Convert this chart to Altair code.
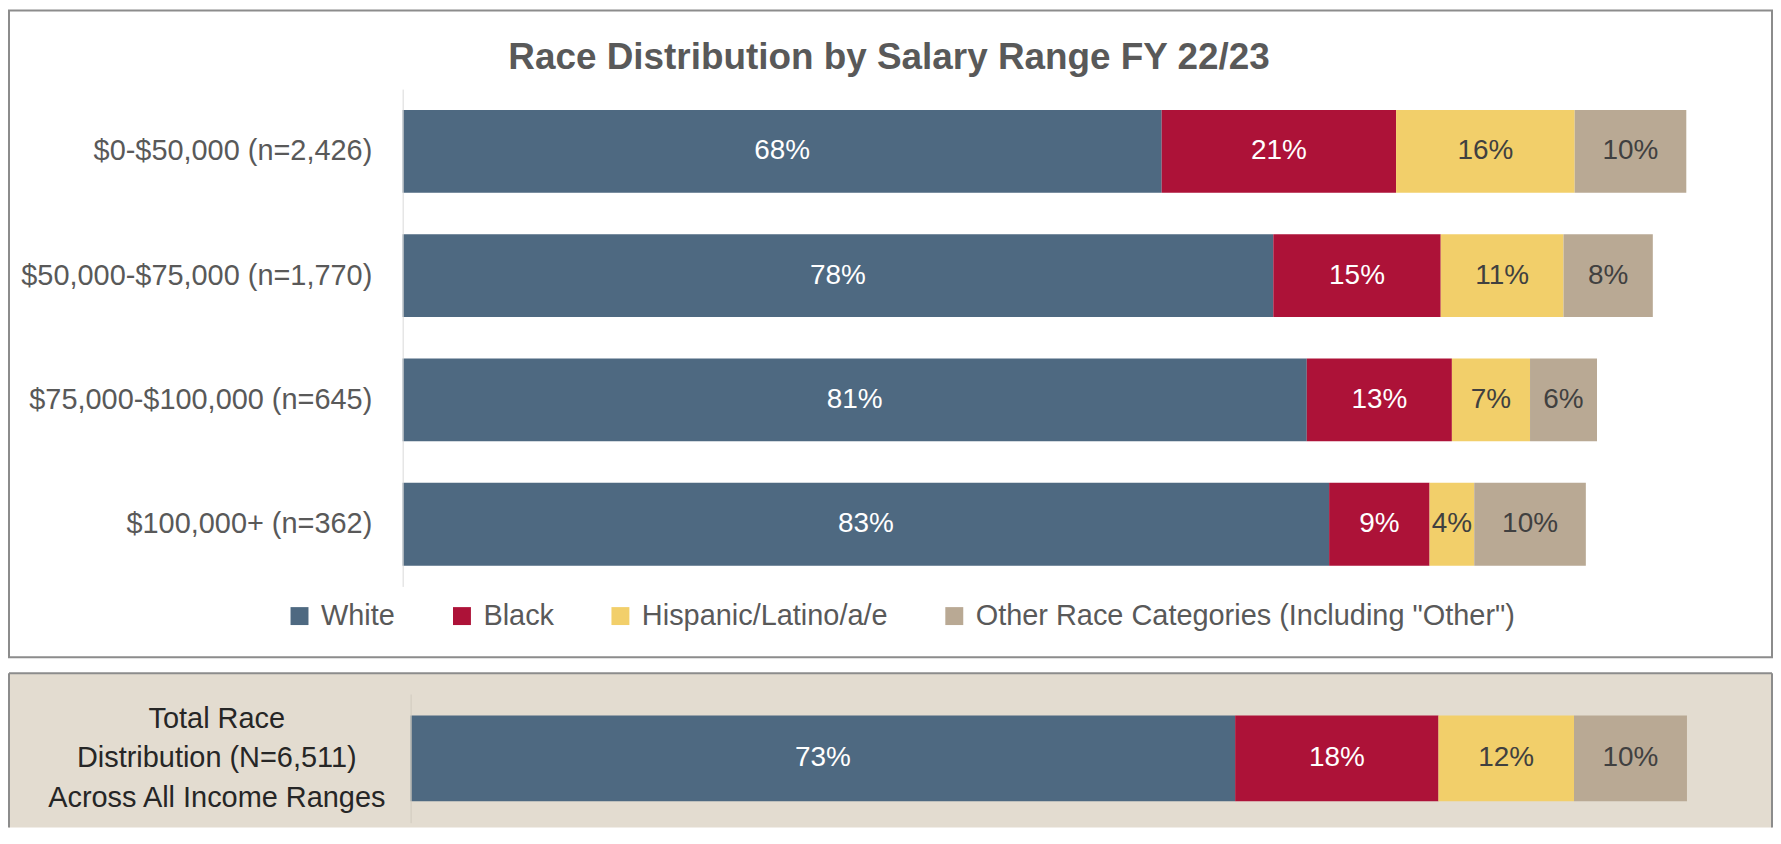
import altair as alt
import pandas as pd

FONT = "Liberation Sans"

chart_title = "Race Distribution by Salary Range FY 22/23"
races = ["White", "Black", "Hispanic/Latino/a/e", 'Other Race Categories (Including "Other")']
colors = ["#4E6981", "#AD1238", "#F2CF6A", "#B9A994"]

salary_ranges = [
    "$0-$50,000 (n=2,426)",
    "$50,000-$75,000 (n=1,770)",
    "$75,000-$100,000 (n=645)",
    "$100,000+ (n=362)",
]
white = [68, 78, 81, 83]
black = [21, 15, 13, 9]
hispanic = [16, 11, 7, 4]
other = [10, 8, 6, 10]

total_label = "Total Race\nDistribution (N=6,511)\nAcross All Income Ranges"
total_values = [73, 18, 12, 10]

series = [white, black, hispanic, other]
top_rows = []
for i, rng in enumerate(salary_ranges):
    for k, race in enumerate(races):
        top_rows.append({"range": rng, "race": race, "order": k, "value": series[k][i]})
top_df = pd.DataFrame(top_rows)

bot_df = pd.DataFrame(
    [{"range": total_label, "race": r, "order": k, "value": v} for k, (r, v) in enumerate(zip(races, total_values))]
)

color_scale = alt.Scale(domain=races, range=colors)


def stacked(df):
    return (
        alt.Chart(df)
        .transform_stack(stack="value", groupby=["range"], as_=["v0", "v1"],
                         sort=[alt.SortField("order", order="ascending")])
        .transform_calculate(mid="(datum.v0 + datum.v1) / 2", label="datum.value + '%'")
    )


one = pd.DataFrame({"a": [0]})
L, R = -395, 1374  # panel edges relative to the plot origin

# ---------------- top panel ----------------
TW, TH = 1344, 499
x_top = alt.Scale(domain=[0, 120], nice=False, zero=True)
y_top = alt.Scale(domain=salary_ranges, paddingInner=0.334, paddingOuter=0.167)

top_panel = alt.Chart(one).mark_rect(fill="white", stroke="#8C8C8C", strokeWidth=2).encode(
    x=alt.value(L), x2=alt.value(R), y=alt.value(-79), y2=alt.value(570)
)

top_title = alt.Chart(pd.DataFrame({"t": [chart_title]})).mark_text(
    font=FONT, fontSize=37, fontWeight="bold", color="#595959", align="center", baseline="middle"
).encode(x=alt.value(488), y=alt.value(-31), text="t:N")

top_bars = stacked(top_df).mark_bar().encode(
    y=alt.Y("range:N", scale=y_top, sort=salary_ranges,
            axis=alt.Axis(title=None, ticks=False, labelPadding=31, labelFontSize=29, labelFont=FONT,
                          labelColor="#595959", labelLimit=600, domainColor="#D9D9D9", domainWidth=1,
                          grid=False, zindex=1)),
    x=alt.X("v0:Q", scale=x_top, axis=None),
    x2="v1:Q",
    color=alt.Color("race:N", scale=color_scale,
                    legend=alt.Legend(title=None, orient="none", legendX=-118, legendY=514,
                                      direction="horizontal", symbolType="square", symbolSize=324,
                                      symbolStrokeWidth=0, symbolOpacity=1, labelFontSize=29,
                                      labelFont=FONT, labelColor="#595959", labelOffset=7,
                                      columnPadding=52, labelLimit=800, zindex=1)),
)

top_labels = stacked(top_df).mark_text(font=FONT, fontSize=28, align="center", baseline="middle").encode(
    y=alt.Y("range:N", scale=y_top, sort=salary_ranges),
    x=alt.X("mid:Q", scale=x_top),
    text="label:N",
    color=alt.condition("datum.order < 2", alt.value("white"), alt.value("#404040")),
)

top = alt.layer(top_panel, top_title, top_bars, top_labels).properties(width=TW, height=TH)

# ---------------- bottom panel ----------------
BW, BH = 1368, 129
SHIFT = 8
x_bot = alt.Scale(domain=[0, 120], nice=False, zero=True, range=[SHIFT, BW])
y_bot = alt.Scale(domain=[total_label], paddingInner=0.334, paddingOuter=0.167)

bot_bg = alt.Chart(one).mark_rect(fill="#E3DCD0").encode(
    x=alt.value(L), x2=alt.value(R), y=alt.value(-21), y2=alt.value(134)
)
b_top = alt.Chart(one).mark_rule(color="#8C8C8C", strokeWidth=2).encode(
    x=alt.value(L), x2=alt.value(R), y=alt.value(-21)
)
b_left = alt.Chart(one).mark_rule(color="#8C8C8C", strokeWidth=2).encode(
    x=alt.value(L), y=alt.value(-21), y2=alt.value(134)
)
b_right = alt.Chart(one).mark_rule(color="#8C8C8C", strokeWidth=2).encode(
    x=alt.value(R), y=alt.value(-21), y2=alt.value(134)
)

bot_bars = stacked(bot_df).mark_bar().encode(
    y=alt.Y("range:N", scale=y_bot,
            axis=alt.Axis(title=None, ticks=False, offset=-SHIFT, labelPadding=195, labelAlign="center",
                          labelBaseline="middle", labelExpr="split(datum.label, '\\n')",
                          labelLineHeight=39.5, labelOffset=-39.5, labelFontSize=29, labelFont=FONT,
                          labelColor="#262626", labelLimit=600, domainColor="#D0CABF",
                          domainWidth=1, grid=False, zindex=1)),
    x=alt.X("v0:Q", scale=x_bot, axis=None),
    x2="v1:Q",
    color=alt.Color("race:N", scale=color_scale, legend=None),
)

bot_labels = stacked(bot_df).mark_text(font=FONT, fontSize=28, align="center", baseline="middle").encode(
    y=alt.Y("range:N", scale=y_bot),
    x=alt.X("mid:Q", scale=x_bot),
    text="label:N",
    color=alt.condition("datum.order < 2", alt.value("white"), alt.value("#404040")),
)

bottom = alt.layer(bot_bg, b_top, b_left, b_right, bot_bars, bot_labels).properties(width=BW, height=BH)

chart = (
    alt.concat(top, bottom, columns=1, align="none", spacing=14)
    .resolve_legend(color="independent")
    .resolve_scale(x="independent")
    .properties(padding=0, background="white")
    .configure_view(stroke=None)
)

chart.save("out.html", embed_options={"renderer": "svg", "actions": False})
